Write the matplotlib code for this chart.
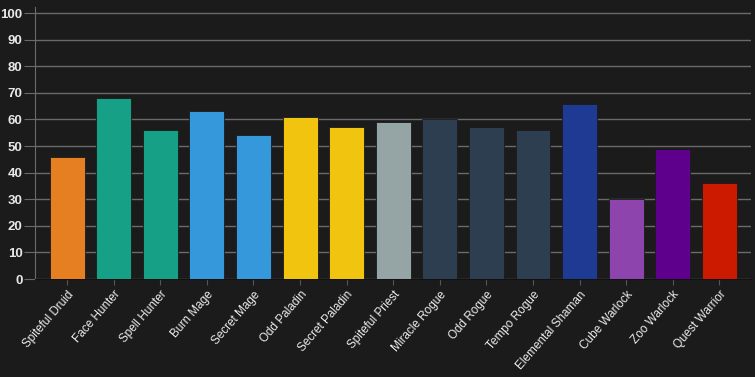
import matplotlib.pyplot as plt

plt.rcParams['font.family'] = ['Liberation Sans', 'DejaVu Sans']

decks = ['Spiteful Druid', 'Face Hunter', 'Spell Hunter', 'Burn Mage', 'Secret Mage',
         'Odd Paladin', 'Secret Paladin', 'Spiteful Priest', 'Miracle Rogue', 'Odd Rogue',
         'Tempo Rogue', 'Elemental Shaman', 'Cube Warlock', 'Zoo Warlock', 'Quest Warrior']
winrates = [46, 68, 56, 63, 54, 61, 57, 59, 60, 57, 56, 66, 30, 49, 36]
colors = ['#e67e22', '#16a085', '#16a085', '#3498db', '#3498db', '#f1c40f', '#f1c40f',
          '#95a5a6', '#2c3e50', '#2c3e50', '#2c3e50', '#1f3a93', '#8e44ad', '#5f008c', '#cc1a00']

bg = '#1b1b1b'
fig = plt.figure(figsize=(7.55, 3.77), dpi=100, facecolor=bg)
ax = fig.add_axes([35 / 755, (377 - 279) / 377, (751 - 35) / 755, (279 - 7) / 377])
ax.set_facecolor(bg)

x = range(len(decks))
ax.bar(x, winrates, width=0.75, color=colors, edgecolor=bg, linewidth=0.6, zorder=3)

ax.set_xlim(-0.69, len(decks) - 1 + 0.68)
ax.set_ylim(0, 102.3)
ax.set_yticks(range(0, 101, 10))
ax.grid(axis='y', color='#6a6a6a', linewidth=1, zorder=0)

ax.set_xticks(list(x))
ax.set_xticklabels(decks, rotation=49, ha='right', rotation_mode='anchor',
                   fontsize=8.5, color='#ececec')
ax.tick_params(axis='x', length=4, color='#555555', pad=3)
ax.tick_params(axis='y', length=8, color='#6a6a6a', labelsize=9.5, labelcolor='#e8e8e8', pad=1)
for lab in ax.get_yticklabels():
    lab.set_fontweight('bold')

for s in ['top', 'right']:
    ax.spines[s].set_visible(False)
ax.spines['left'].set_color('#6a6a6a')
ax.spines['bottom'].set_color('#111111')

fig.savefig('out.png', dpi=100, facecolor=bg)
